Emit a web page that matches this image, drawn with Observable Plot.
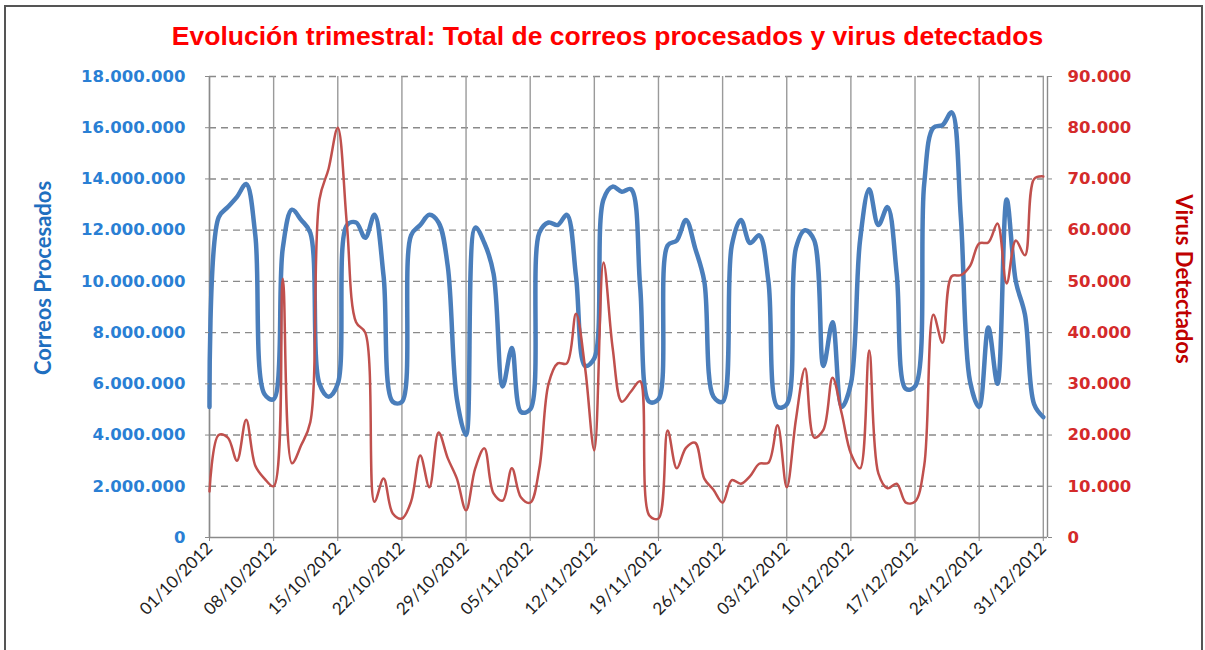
<!DOCTYPE html>
<html><head><meta charset="utf-8">
<script src="https://cdn.jsdelivr.net/npm/d3@7"></script>
<script src="https://cdn.jsdelivr.net/npm/@observablehq/plot@0.6"></script>
<style>
body{margin:0;background:#fff;}
#wrap{position:relative;width:1205px;height:650px;overflow:hidden;background:#fff;}
#frame{position:absolute;left:4px;top:5px;width:1195px;height:700px;border:2px solid #555;border-bottom:none;}
#title{position:absolute;top:21px;left:5px;width:1205px;text-align:center;font:bold 26.5px "Liberation Sans",Arial,sans-serif;color:#ff0000;letter-spacing:0px;}
#chart{position:absolute;left:0;top:0;}
</style></head>
<body>
<div id="wrap">
  <div id="frame"></div>
  <div id="chart"></div>
  <div id="title">Evolución trimestral: Total de correos procesados y virus detectados</div>
</div>
<script>
// Daily values, 01/10/2012 .. 31/12/2012
const correos = [5100000,12500000,12900000,13300000,13800000,11800000,5600000,5400000,11300000,12800000,
  12400000,11900000,6000000,5500000,6000000,12200000,12300000,11700000,12600000,10200000,
  5300000,5300000,11800000,12200000,12600000,12300000,10600000,5400000,4000000,12100000,
  11500000,10300000,5900000,7400000,4900000,5000000,11900000,12300000,12200000,12600000,
  10200000,6700000,7000000,13200000,13700000,13500000,13600000,9800000,5300000,5400000,
  11400000,11600000,12400000,11300000,10000000,5500000,5300000,11400000,12400000,11500000,
  11800000,10000000,5100000,5200000,11300000,12000000,11600000,6700000,8400000,5100000,
  6000000,11600000,13600000,12200000,12900000,10300000,5800000,5900000,13800000,16000000,
  16100000,16600000,12500000,6100000,5100000,8200000,6000000,13200000,10000000,8700000,
  5200000,4700000];
const virus = [9000,20000,19500,15000,23000,14000,11500,10000,50500,14500,
  18000,22500,66000,72000,80000,61000,42000,40000,7000,11500,
  4700,3700,7000,16000,9800,20500,15500,11500,5300,13500,
  17400,8600,7200,13500,7800,6800,13500,30000,34000,34000,
  43700,33000,17000,53700,37000,26500,28500,30500,4300,3700,
  20900,13500,17500,18500,11500,9300,6800,11200,10500,12000,
  14400,14600,21900,9800,23000,33000,19500,21000,31200,24200,
  16400,13500,36500,12500,9600,10500,6800,7000,14000,43500,
  38000,51000,51200,53000,57400,57600,61300,49600,58000,55100,
  70000,70500];
const ticksCorreos = [0,2000000,4000000,6000000,8000000,10000000,12000000,14000000,16000000,18000000];
const ticksVirus = [0,10000,20000,30000,40000,50000,60000,70000,80000,90000];
const etiquetasFechas = ["01/10/2012","08/10/2012","15/10/2012","22/10/2012","29/10/2012","05/11/2012","12/11/2012","19/11/2012","26/11/2012","03/12/2012","10/12/2012","17/12/2012","24/12/2012","31/12/2012"];

const inicio = new Date(Date.UTC(2012, 9, 1));
const fechas = correos.map((_, i) => d3.utcDay.offset(inicio, i));
const data = fechas.map((f, i) => ({fecha: f, correos: correos[i], virus: virus[i]}));
const parseF = d3.utcParse("%d/%m/%Y");
const semanas = etiquetasFechas.map(parseF);
const fin = d3.utcHour.offset(fechas[fechas.length - 1], 11);
const ratio = 18000000 / 90000;

const loc = d3.formatLocale({decimal: ",", thousands: ".", grouping: [3], currency: ["", "€"]});
const fmt = loc.format(",");

const plot = Plot.plot({
  width: 1205, height: 650,
  marginTop: 76, marginBottom: 113, marginLeft: 209, marginRight: 158,
  x: {type: "utc", domain: [inicio, fin]},
  y: {domain: [0, 18000000]},
  style: {fontFamily: "DejaVu Sans", overflow: "visible", background: "transparent"},
  marks: [
    Plot.gridY(ticksCorreos.slice(1), {stroke: "#8a8a8a", strokeOpacity: 1, strokeWidth: 1.4, strokeDasharray: "7,5"}),
    Plot.gridX(semanas, {stroke: "#9a9a9a", strokeOpacity: 1, strokeWidth: 1.4}),
    Plot.ruleX([inicio, fin], {stroke: "#8a8a8a", strokeWidth: 1.4}),
    Plot.ruleY([0], {stroke: "#8a8a8a", strokeWidth: 1.6}),
    Plot.line(data, {x: "fecha", y: "correos", stroke: "#4a7ebb", strokeWidth: 4.5, curve: "catmull-rom", strokeLinejoin: "round"}),
    Plot.line(data, {x: "fecha", y: d => d.virus * ratio, stroke: "#c0504d", strokeWidth: 2.5, curve: "catmull-rom"}),
    Plot.axisY(ticksCorreos, {anchor: "left", tickFormat: fmt, fill: "#2a7fd4", stroke: "#8a8a8a", fontWeight: "bold", fontSize: 16.5, tickSize: 4, tickPadding: 20, label: null}),
    Plot.axisY(ticksVirus.map(v => v * ratio), {anchor: "right", tickFormat: d => fmt(d / ratio), fill: "#d42a2a", stroke: "#8a8a8a", fontWeight: "bold", fontSize: 16.5, tickSize: 4, tickPadding: 16, label: null}),
    Plot.axisX(semanas, {anchor: "bottom", tickRotate: -45, tickFormat: d3.utcFormat("%d/%m/%Y"), fill: "#222", stroke: "#8a8a8a", fontSize: 17, fontFamily: "Lato", tickSize: 4, tickPadding: 4, label: null}),
    Plot.text(["Correos Procesados"], {frameAnchor: "left", textAnchor: "middle", dx: -166, dy: -29, rotate: -90, fill: "#1f6fc0", fontWeight: "bold", fontSize: 22, fontFamily: "Lato"}),
    Plot.text(["Virus Detectados"], {frameAnchor: "right", textAnchor: "middle", dx: 136, dy: -28, rotate: 90, fill: "#c00000", fontWeight: "bold", fontSize: 22, fontFamily: "Lato"})
  ]
});
document.getElementById("chart").appendChild(plot);
</script>
</body></html>
